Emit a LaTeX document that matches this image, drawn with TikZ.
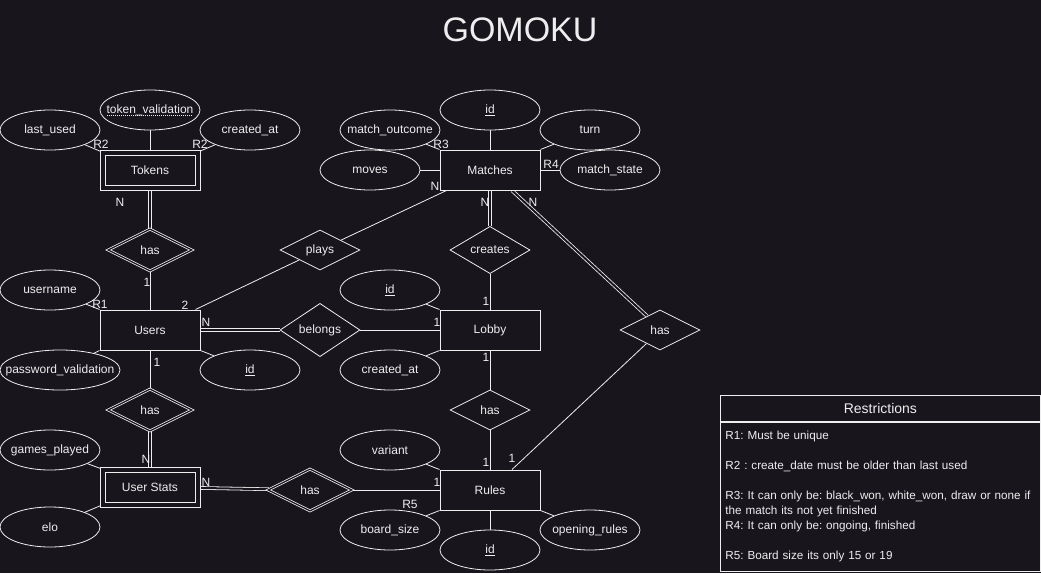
\documentclass[tikz,border=0pt]{standalone}
\usepackage{fontspec}
\setmainfont{Liberation Sans}
\usetikzlibrary{positioning, shapes.geometric, backgrounds}
\definecolor{Night}{HTML}{18151D}
\definecolor{Chalk}{HTML}{EEEEEE}
\frenchspacing
\newcommand\dotunder[1]{\setbox0\hbox{#1}\leavevmode
  \rlap{\raisebox{-2.5pt}{\hbox to \wd0{\leaders\hbox to 2pt{\hss\rule{1pt}{0.7pt}\hss}\hfill}}}\box0}
\tikzset{
  entity/.style={rectangle, draw=Chalk, fill=Night, line width=1pt,
                 minimum width=100pt, minimum height=40pt, inner sep=0pt,
                 font=\fontsize{12}{14}\selectfont, text=Chalk},
  weakentity/.style={entity, double=Night, double distance=4pt,
                 minimum width=95pt, minimum height=35pt},
  attrib/.style={ellipse, draw=Chalk, fill=Night, line width=0.8pt,
                 minimum width=#1, minimum height=40pt, inner xsep=-20pt, inner ysep=0pt,
                 font=\fontsize{12}{14}\selectfont, text=Chalk},
  attrib/.default=100pt,
  relation/.style={diamond, draw=Chalk, fill=Night, line width=0.8pt,
                 minimum width=80pt, minimum height=40pt, inner sep=0pt,
                 font=\fontsize{12}{14}\selectfont, text=Chalk},
  weakrelation/.style={relation, double=Night, double distance=1.2pt,
                 minimum width=84pt, minimum height=42pt},
}

\begin{document}
\begin{tikzpicture}[
        x=1pt, y=-1pt,
        card/.style={inner sep=0pt, font=\fontsize{12}{14}\selectfont, text=Chalk},
        link/.style={draw=Chalk, line width=0.8pt},
        dlink/.style={draw=Chalk, line width=0.8pt, double=Night, double distance=2pt}
      ]
        \useasboundingbox (0,0) rectangle (1041,573);
        \node[card, font=\fontsize{34}{40}\selectfont] (title) at (520,30) {GOMOKU};

        % Tokens
        \node[weakentity] (tokens) at (150,170) {Tokens};
        \node[attrib] (tokval) at (150,110) {\dotunder{token\_validation}};
        \node[attrib] (lastused) at (50,130) {last\_used};
        \node[attrib] (tokcreated) at (250,130) {created\_at};
        \node[weakrelation] (hastok) at (150,250) {has};

        % Users
        \node[entity] (users) at (150,330) {Users};
        \node[attrib] (username) at (50,290) {username};
        \node[attrib=120pt] (pwval) at (60,370) {password\_validation};
        \node[attrib] (userid) at (250,370) {\underline{id}};
        \node[relation] (plays) at (320,250) {plays};
        \node[relation] (belongs) at (320,330) {belongs};
        \node[weakrelation] (hasstats) at (150,410) {has};

        % User Stats
        \node[weakentity] (stats) at (150,487) {User Stats};
        \node[attrib] (games) at (50,450) {games\_played};
        \node[attrib] (elo) at (50,527) {elo};
        \node[weakrelation] (hasrules) at (310,490) {has};

        % Matches
        \node[entity] (matches) at (490,170) {Matches};
        \node[attrib] (matchid) at (490,110) {\underline{id}};
        \node[attrib] (outcome) at (390,130) {match\_outcome};
        \node[attrib] (moves) at (370,170) {moves};
        \node[attrib] (turn) at (590,130) {turn};
        \node[attrib] (mstate) at (610,170) {match\_state};
        \node[relation] (creates) at (490,250) {creates};
        \node[relation] (hasmr) at (660,330) {has};

        % Lobby
        \node[entity] (lobby) at (490,330) {Lobby};
        \node[attrib] (lobbyid) at (390,290) {\underline{id}};
        \node[attrib] (lobbycreated) at (390,370) {created\_at};
        \node[relation] (haslr) at (490,410) {has};

        % Rules
        \node[entity] (rules) at (490,490) {Rules};
        \node[attrib] (variant) at (390,450) {variant};
        \node[attrib] (board) at (390,530) {board\_size};
        \node[attrib] (rulesid) at (490,550) {\underline{id}};
        \node[attrib] (opening) at (590,530) {opening\_rules};

        % Restrictions
        \node[draw=Chalk, fill=Night, line width=0.8pt, minimum width=320pt, minimum height=26pt,
              inner sep=0pt, anchor=north west, font=\fontsize{14}{16}\selectfont, text=Chalk]
          (restrhead) at (720,395) {Restrictions};
        \node[draw=Chalk, fill=Night, line width=0.8pt, text width=310pt, minimum height=149pt,
              inner xsep=5pt, inner ysep=0pt, anchor=north west, align=left,
              font=\fontsize{11.7}{15}\selectfont, text=Chalk]
          (restrbody) at (restrhead.south west)
          {R1: Must be unique\\[15pt]
           R2 : create\_date must be older than last used\\[15pt]
           R3: It can only be: black\_won, white\_won, draw or none if\\
           the match its not yet finished\\
           R4: It can only be: ongoing, finished\\[15pt]
           R5: Board size its only 15 or 19};

        % Cardinalities and restriction marks
        \node[card] (r2a) at (101,144) {R2};
        \node[card] (r2b) at (200,144) {R2};
        \node[card] (ctok) at (120,202) {N};
        \node[card] (chastok) at (147,282) {1};
        \node[card] (r1) at (100,304) {R1};
        \node[card] (cplays) at (185,305) {2};
        \node[card] (cbelongs) at (206,322) {N};
        \node[card] (cusers) at (157,362) {1};
        \node[card] (cstats) at (146,459) {N};
        \node[card] (cstatsr) at (206,482) {N};
        \node[card] (r3) at (441,144) {R3};
        \node[card] (r4) at (551,164) {R4};
        \node[card] (cmplays) at (435,186) {N};
        \node[card] (cmcreates) at (485,202) {N};
        \node[card] (cmhas) at (533,202) {N};
        \node[card] (clcreates) at (486,301) {1};
        \node[card] (clbelongs) at (437,322) {1};
        \node[card] (clhas) at (486,357) {1};
        \node[card] (crhas) at (486,462) {1};
        \node[card] (crmatch) at (512,458) {1};
        \node[card] (crstats) at (437,482) {1};
        \node[card] (r5) at (410,504) {R5};

        \begin{scope}[on background layer]
          \fill[Night] (0,0) rectangle (1041,573);
          \draw[link] (tokval) -- (tokens);
          \draw[link] (lastused) -- (tokens.north west);
          \draw[link] (tokcreated) -- (tokens.north east);
          \draw[dlink] (tokens) -- (hastok);
          \draw[link] (hastok) -- (users);
          \draw[link] (username) -- (users.north west);
          \draw[link] (pwval) -- (users.south west);
          \draw[link] (userid) -- (users.south east);
          \draw[link] ([xshift=-5pt]users.north east) -- (plays) -- ([xshift=7pt]matches.south west);
          \draw[dlink] (users) -- (belongs);
          \draw[link] (belongs) -- (lobby);
          \draw[link] (users) -- (hasstats);
          \draw[dlink] (hasstats) -- (stats);
          \draw[link] (games) -- (stats.north west);
          \draw[link] (elo) -- (stats.south west);
          \draw[dlink] (stats) -- (hasrules);
          \draw[link] (hasrules) -- (rules);
          \draw[link] (matchid) -- (matches);
          \draw[link] (outcome) -- (matches.north west);
          \draw[link] (moves) -- (matches);
          \draw[link] (turn) -- (matches.north east);
          \draw[link] (matches) -- (mstate);
          \draw[dlink] (matches) -- (creates);
          \draw[link] (creates) -- (lobby);
          \draw[link] (lobbyid) -- (lobby.north west);
          \draw[link] (lobbycreated) -- (lobby.south west);
          \draw[link] (lobby) -- (haslr);
          \draw[link] (haslr) -- (rules);
          \draw[dlink] ([xshift=22pt]matches.south) -- (hasmr.133);
          \draw[link] (hasmr.225) -- ([xshift=22pt]rules.north);
          \draw[link] (variant) -- (rules.north west);
          \draw[link] (board) -- (rules.south west);
          \draw[link] (rulesid) -- (rules);
          \draw[link] (opening) -- (rules.south east);
        \end{scope}
      \end{tikzpicture}
\end{document}
